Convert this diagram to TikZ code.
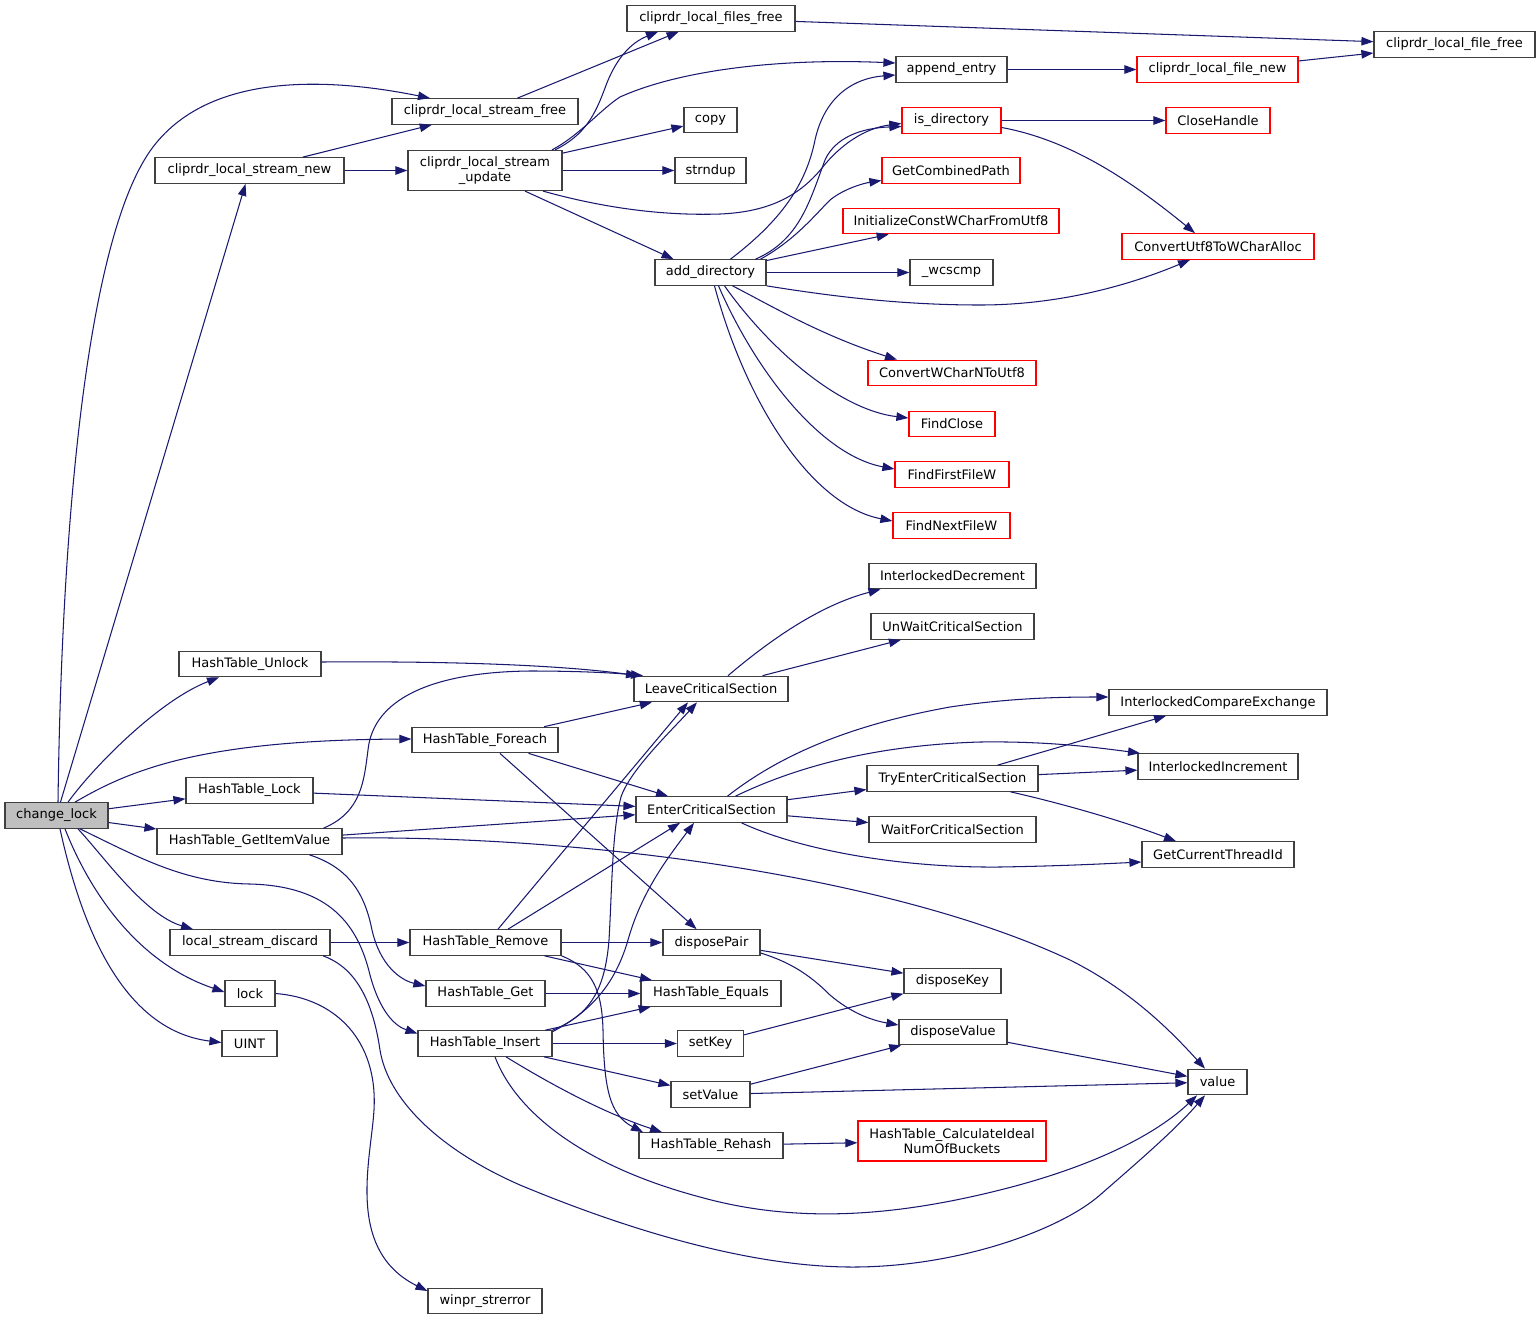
\documentclass[tikz,border=0pt]{standalone}
\usepackage{fontspec}
\setmainfont{DejaVu Sans}
\usetikzlibrary{arrows.meta,calc}
\definecolor{edgeblue}{HTML}{191970}
\definecolor{boxgray}{HTML}{404040}
\definecolor{fillgray}{HTML}{BFBFBF}
\begin{document}
\begin{tikzpicture}[x=1pt,y=-1pt,
  fn/.style={draw=boxgray, line width=1.2pt, fill=white, rectangle, inner sep=0pt,
    minimum height=25.5pt, font=\fontsize{13}{14.5}\selectfont, text=black, align=center},
  fr/.style={fn, draw=red},
  e/.style={draw=edgeblue, line width=1.05pt, -{Triangle[length=12pt,width=8.5pt]}}]
\useasboundingbox[fill=white] (0,0) rectangle (1540,1320);
% rank 0
\node[fn, fill=fillgray, minimum width=103pt] (cl) at (56.5,815.5) {change\_lock};
% rank 1
\node[fn, minimum width=189pt] (lsnew) at (249.5,170.5) {cliprdr\_local\_stream\_new};
\node[fn, minimum width=142pt] (unlock) at (250,664) {HashTable\_Unlock};
\node[fn, minimum width=127pt] (lockH) at (249.5,790.5) {HashTable\_Lock};
\node[fn, minimum width=185pt] (giv) at (249.5,841.5) {HashTable\_GetItemValue};
\node[fn, minimum width=160pt] (lsd) at (250,942.5) {local\_stream\_discard};
\node[fn, minimum width=50pt] (lock) at (250,993.5) {lock};
\node[fn, minimum width=55pt] (uint) at (249.5,1043.5) {UINT};
% rank 2
\node[fn, minimum width=186pt] (lsfree) at (485,111.5) {cliprdr\_local\_stream\_free};
\node[fn, minimum width=154pt, minimum height=40pt] (lsupd) at (485,170.5) {cliprdr\_local\_stream\\\_update};
\node[fn, minimum width=146pt] (foreach) at (485,740) {HashTable\_Foreach};
\node[fn, minimum width=151pt] (remove) at (485.5,942.5) {HashTable\_Remove};
\node[fn, minimum width=119pt] (get) at (485.5,993.5) {HashTable\_Get};
\node[fn, minimum width=134pt] (insert) at (485,1043.5) {HashTable\_Insert};
\node[fn, minimum width=114pt] (strerr) at (485,1301) {winpr\_strerror};
% rank 3
\node[fn, minimum width=168pt] (filesfree) at (711,18.5) {cliprdr\_local\_files\_free};
\node[fn, minimum width=53pt] (copy) at (710.5,120) {copy};
\node[fn, minimum width=71pt] (strndup) at (710.5,170.5) {strndup};
\node[fn, minimum width=111pt] (adddir) at (710.5,272.5) {add\_directory};
\node[fn, minimum width=154pt] (leave) at (711,689) {LeaveCriticalSection};
\node[fn, minimum width=151pt] (enter) at (711.5,809.5) {EnterCriticalSection};
\node[fn, minimum width=97pt] (dpair) at (711.5,942.5) {disposePair};
\node[fn, minimum width=140pt] (equals) at (711,993.5) {HashTable\_Equals};
\node[fn, minimum width=66pt] (setkey) at (710.5,1043.5) {setKey};
\node[fn, minimum width=79pt] (setvalue) at (710.5,1094.5) {setValue};
\node[fn, minimum width=144pt] (rehash) at (711,1145.5) {HashTable\_Rehash};
% rank 4
\node[fn, minimum width=111pt] (append) at (951.5,69.5) {append\_entry};
\node[fr, minimum width=99pt] (isdir) at (951.5,120.5) {is\_directory};
\node[fr, minimum width=138pt] (gcp) at (951,170.5) {GetCombinedPath};
\node[fr, minimum width=216pt] (icw) at (951,221) {InitializeConstWCharFromUtf8};
\node[fn, minimum width=83pt] (wcscmp) at (951.5,272.5) {\_wcscmp};
\node[fr, minimum width=168pt] (cwn) at (952,373) {ConvertWCharNToUtf8};
\node[fr, minimum width=86pt] (fclose) at (952,424) {FindClose};
\node[fr, minimum width=114pt] (ffirst) at (952,474.5) {FindFirstFileW};
\node[fr, minimum width=117pt] (fnext) at (951.5,525.5) {FindNextFileW};
\node[fn, minimum width=167pt] (idec) at (952.5,576) {InterlockedDecrement};
\node[fn, minimum width=163pt] (unwait) at (952.5,626.5) {UnWaitCriticalSection};
\node[fn, minimum width=171pt] (tryenter) at (952.5,778.5) {TryEnterCriticalSection};
\node[fn, minimum width=167pt] (waitfor) at (952.5,829.5) {WaitForCriticalSection};
\node[fn, minimum width=97pt] (dkey) at (952.5,981) {disposeKey};
\node[fn, minimum width=108pt] (dval) at (953,1032) {disposeValue};
\node[fr, minimum width=188pt, minimum height=40pt] (calc) at (952,1141) {HashTable\_CalculateIdeal\\NumOfBuckets};
% rank 5
\node[fr, minimum width=161pt] (lfnew) at (1217.5,69.5) {cliprdr\_local\_file\_new};
\node[fr, minimum width=104pt] (closeh) at (1218,120.5) {CloseHandle};
\node[fr, minimum width=192pt] (cu8) at (1218,246.5) {ConvertUtf8ToWCharAlloc};
\node[fn, minimum width=218pt] (icx) at (1218,702.5) {InterlockedCompareExchange};
\node[fn, minimum width=160pt] (iinc) at (1218,766.5) {InterlockedIncrement};
\node[fn, minimum width=152pt] (gcti) at (1218,854.5) {GetCurrentThreadId};
\node[fn, minimum width=59pt] (value) at (1217.5,1082) {value};
% rank 6
\node[fn, minimum width=161pt] (lffree) at (1454.5,44.5) {cliprdr\_local\_file\_free};

% ---- edges from change_lock
\draw[e] ([xshift=1.5]cl.north) .. controls (62,500) and (90,230) .. (153,147) .. controls (213,68) and (340,80) .. ([xshift=-55]lsfree.north);
\draw[e] (cl) -- (lsnew);
\draw[e] ([xshift=11.5]cl.north) .. controls (95,765) and (160,700) .. ([xshift=-31]unlock.south);
\draw[e] ([xshift=18.5]cl.north) .. controls (130,770) and (200,740) .. ([yshift=1]foreach.west);
\draw[e] (cl) -- (lockH);
\draw[e] (cl) -- (giv);
\draw[e] ([xshift=21.5]cl.south) .. controls (105,858) and (145,915) .. ([xshift=-57]lsd.north);
\draw[e] ([xshift=8.5]cl.south) .. controls (85,880) and (130,960) .. ([yshift=1.5]lock.west);
\draw[e] ([xshift=3.5]cl.south) .. controls (80,920) and (120,1030) .. ([yshift=1]uint.west);
\draw[e] ([xshift=23.5]cl.south) .. controls (140,858) and (185,883) .. (250,884) .. controls (330,886) and (358,925) .. (370,975) .. controls (380,1012) and (395,1026) .. ([yshift=10]insert.west);
% ---- rank 1
\draw[e] (lsnew) -- (lsfree);
\draw[e] (lsnew) -- (lsupd);
\draw[e] ([yshift=2]unlock.east) .. controls (450,661) and (560,665) .. ([xshift=-73]leave.north);
\draw[e] ([xshift=74]giv.north) .. controls (362,812) and (364,780) .. (368,750) .. controls (373,700) and (430,672) .. (530,671) .. controls (580,671) and (615,673) .. ([xshift=-68]leave.north);
\draw[e] (lockH) -- (enter);
\draw[e] (giv) -- (enter);
\draw[e] ([yshift=3.5]giv.east) .. controls (600,835) and (900,880) .. (1070,960) .. controls (1130,990) and (1170,1030) .. ([xshift=-12.5]value.north);
\draw[e] ([xshift=60]giv.south) .. controls (350,868) and (365,895) .. (372,930) .. controls (380,965) and (400,980) .. ([yshift=7.5]get.west);
\draw[e] (lsd) -- (remove);
\draw[e] ([xshift=73]lsd.south) .. controls (352,966) and (372,995) .. (380,1050) .. controls (388,1100) and (440,1150) .. (520,1185) .. controls (640,1235) and (760,1268) .. (857,1267) .. controls (960,1266) and (1060,1230) .. (1100,1195) .. controls (1140,1160) and (1175,1130) .. ([xshift=-12.5]value.south);
\draw[e] (lock.east) .. controls (335,998) and (378,1040) .. (374,1110) .. controls (371,1160) and (345,1250) .. ([yshift=10]strerr.west);
% ---- rank 2
\draw[e] (lsfree) -- (filesfree);
\draw[e] ([xshift=70]lsupd.north) .. controls (585,135) and (595,115) .. (605,88) .. controls (615,60) and (630,43) .. ([xshift=-53]filesfree.south);
\draw[e] ([xshift=67]lsupd.north) .. controls (580,135) and (600,110) .. (620,97) .. controls (680,70) and (780,58) .. ([yshift=6.5]append.west);
\draw[e] (lsupd) -- (copy);
\draw[e] (lsupd) -- (strndup);
\draw[e] ([xshift=58]lsupd.south) .. controls (600,207) and (660,216) .. (720,214) .. controls (770,212) and (800,195) .. (822,168) .. controls (840,145) and (865,128) .. ([yshift=-3]isdir.west);
\draw[e] ([xshift=40]lsupd.south) -- ([xshift=-37]adddir.north);
\draw[e] (foreach) -- (leave);
\draw[e] (foreach) -- (enter);
\draw[e] (foreach) -- (dpair);
\draw[e] ([xshift=12.5]remove.north) -- ([xshift=-23]leave.south);
\draw[e] ([xshift=22.5]remove.north) -- ([xshift=-31.5]enter.south);
\draw[e] (remove) -- (dpair);
\draw[e] (remove) -- (equals);
\draw[e] (remove.south east) .. controls (592,968) and (602,990) .. (603,1030) .. controls (604,1090) and (610,1115) .. ([xshift=-68]rehash.north);
\draw[e] (get) -- (equals);
\draw[e] (insert) -- (equals);
\draw[e] (insert.north east) .. controls (590,1015) and (605,990) .. (609,940) .. controls (612,890) and (612,830) .. (621,797) .. controls (630,770) and (672,730) .. ([xshift=-14]leave.south);
\draw[e] ([yshift=-1.5]insert.north east) .. controls (590,1012) and (615,985) .. (628,940) .. controls (642,890) and (670,855) .. ([xshift=-17.5]enter.south);
\draw[e] (insert) -- (setkey);
\draw[e] (insert) -- (setvalue);
\draw[e] ([xshift=21]insert.south) .. controls (560,1090) and (610,1115) .. ([xshift=-49]rehash.north);
\draw[e] ([xshift=10]insert.south) .. controls (515,1110) and (580,1165) .. (700,1197) .. controls (800,1225) and (900,1215) .. (1000,1190) .. controls (1080,1170) and (1150,1140) .. ([xshift=-20.5]value.south);
% ---- rank 3
\draw[e] (dpair) -- (dkey);
\draw[e] ([yshift=-10.5]dpair.east) .. controls (790,962) and (810,975) .. (830,995) .. controls (850,1012) and (870,1020) .. ([yshift=7]dval.west);
\draw[e] (setkey) -- (dkey);
\draw[e] (setvalue) -- (dval);
\draw[e] (setvalue) -- (value);
\draw[e] (dval) -- (value);
\draw[e] (rehash) -- (calc);
\draw[e] ([xshift=20]adddir.north) .. controls (775,225) and (805,190) .. (815,140) .. controls (825,95) and (855,78) .. ([yshift=-5.5]append.west);
\draw[e] ([xshift=45]adddir.north) .. controls (800,240) and (810,200) .. (825,160) .. controls (835,138) and (860,128) .. ([yshift=-6]isdir.west);
\draw[e] ([xshift=50]adddir.north) .. controls (795,240) and (815,215) .. (830,200) .. controls (845,188) and (865,183) .. ([yshift=-10]gcp.west);
\draw[e] (adddir) -- (icw);
\draw[e] (adddir) -- (wcscmp);
\draw[e] (adddir.south east) .. controls (830,296) and (900,305) .. (980,305) .. controls (1060,305) and (1130,285) .. ([xshift=-28]cu8.south);
\draw[e] ([xshift=22]adddir.south) .. controls (770,305) and (820,335) .. ([xshift=-55]cwn.north);
\draw[e] ([xshift=14]adddir.south) .. controls (770,350) and (840,410) .. ([yshift=6]fclose.west);
\draw[e] ([xshift=8]adddir.south) .. controls (755,370) and (820,455) .. ([yshift=5.5]ffirst.west);
\draw[e] ([xshift=4]adddir.south) .. controls (745,400) and (810,505) .. ([yshift=4.5]fnext.west);
\draw[e] (filesfree) -- (lffree);
\draw[e] ([xshift=17]leave.north) .. controls (770,640) and (820,605) .. ([xshift=-72]idec.south);
\draw[e] (leave) -- (unwait);
\draw[e] ([xshift=16]enter.north) .. controls (780,755) and (850,725) .. (950,707) .. controls (1010,698) and (1060,697) .. ([yshift=5.5]icx.west);
\draw[e] ([xshift=24]enter.north) .. controls (800,765) and (880,745) .. (980,742) .. controls (1050,741) and (1100,748) .. ([xshift=-78]iinc.north);
\draw[e] (enter) -- (tryenter);
\draw[e] (enter) -- (waitfor);
\draw[e] ([xshift=30]enter.south) .. controls (800,850) and (900,868) .. (1000,867) .. controls (1060,866) and (1100,864) .. ([yshift=-7.5]gcti.west);
% ---- rank 4
\draw[e] (isdir) -- (closeh);
\draw[e] ([yshift=-7]isdir.east) .. controls (1070,140) and (1130,180) .. ([xshift=-23]cu8.north);
\draw[e] (append) -- (lfnew);
\draw[e] ([xshift=45]tryenter.north) -- ([xshift=-52]icx.south);
\draw[e] (tryenter) -- (iinc);
\draw[e] ([xshift=58]tryenter.south) .. controls (1060,803) and (1120,820) .. ([xshift=-42]gcti.north);
% ---- rank 5
\draw[e] (lfnew) -- (lffree);
\end{tikzpicture}
\end{document}
